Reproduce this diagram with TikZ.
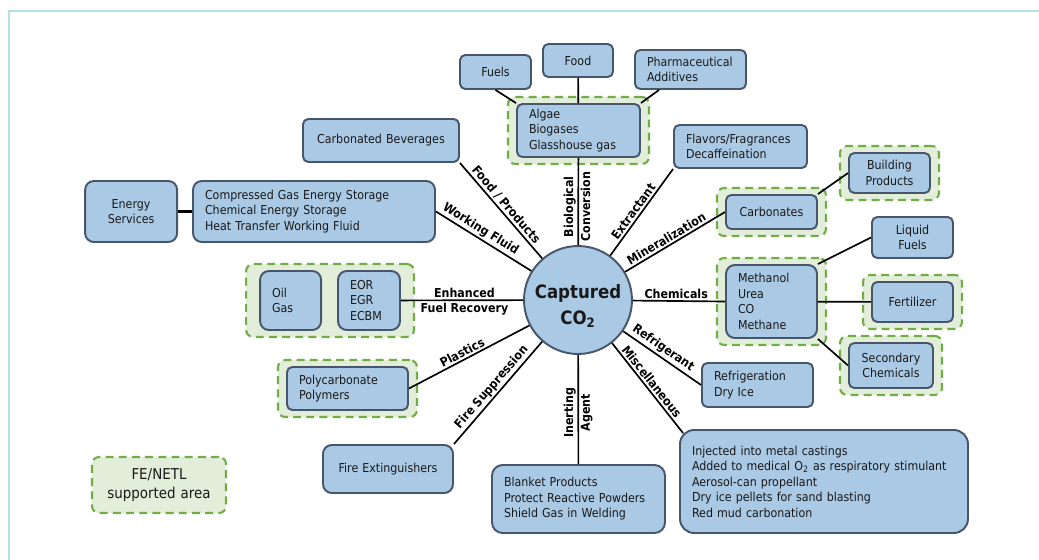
\documentclass[tikz,border=0pt]{standalone}
\usepackage{fontspec}
\setmainfont{DejaVu Sans}[FakeStretch=0.9]
\usepackage{xcolor}
\usepackage{tikz}
\usetikzlibrary{
  positioning,
  fit,
  backgrounds
}
\pgfdeclarelayer{background}
\pgfsetlayers{background,main}
\definecolor{boxblue}{RGB}{170, 201, 228}
\definecolor{edgeslate}{RGB}{72, 86, 108}
\definecolor{suppgreen}{RGB}{112, 173, 71}
\definecolor{suppfill}{RGB}{226, 238, 218}
\definecolor{framecyan}{RGB}{178, 224, 230}
\definecolor{inktext}{RGB}{25, 25, 25}
\newcommand{\bxfont}{\fontsize{7}{8.8}\selectfont}
\newcommand{\hubfont}{\fontsize{10.5}{14.5}\selectfont\bfseries}
\newcommand{\lblfont}{\fontsize{7}{8.4}\selectfont\bfseries}
\newcommand{\keyfont}{\fontsize{8.5}{10.4}\selectfont}
\tikzset{
  ubox/.style = {
    rectangle, rounded corners=3pt,
    draw=edgeslate, line width=1.1pt,
    fill=boxblue, text width=#1, align=left,
    inner xsep=0.24cm, inner ysep=2pt,
    font=\bxfont, text=inktext
  },
  ubox/.default = 2cm,
  hub/.style = {
    circle, draw=edgeslate, line width=1.1pt,
    fill=boxblue, minimum size=2.16cm, inner sep=0pt,
    align=center, font=\hubfont, text=inktext
  },
  supp/.style = {
    draw=suppgreen, fill=suppfill, line width=1.2pt,
    dash pattern=on 4.5pt off 3pt, rounded corners=4pt,
    inner xsep=0.16cm, inner ysep=0.12cm
  },
  conn/.style = {draw=black, line width=0.95pt},
  lbl/.style  = {font=\lblfont, inner sep=1pt},
}

\begin{document}
\begin{tikzpicture}[x=0.02cm, y=-0.02cm]

  \useasboundingbox (0,0) rectangle (1039,559);
  \draw[framecyan, line width=1.5pt] (9,11) rectangle (1070,590);

  %% ── Hub ────────────────────────────────────────────────────────────────
  \node[hub] (co2) at (578,300)
    {\raisebox{-0.13cm}[\height][\depth]{%
       \begin{tabular}{@{}c@{}}Captured\\CO\textsubscript{2}\end{tabular}}};

  %% ── Top: biological branch ─────────────────────────────────────────────
  \node[ubox=1.98cm, minimum height=1.06cm] (algae) at (578.5,130.5)
    {Algae\\Biogases\\Glasshouse gas};
  \node[ubox=0.92cm, align=center, minimum height=0.66cm] (food)
    at (578,60.5) {Food};
  \node[ubox=0.94cm, align=center, minimum height=0.68cm] (fuels)
    at (495.5,72) {Fuels};
  \node[ubox=1.74cm, minimum height=0.78cm] (pharma) at (690.5,69.5)
    {Pharmaceutical\\Additives};

  %% ── Left side ─────────────────────────────────────────────────────────
  \node[ubox=2.64cm, align=center, minimum height=0.86cm] (bev)
    at (381,140.5) {Carbonated Beverages};
  \node[ubox=4.36cm, minimum height=1.22cm, rounded corners=5pt] (stor)
    at (314,211.5)
    {Compressed Gas Energy Storage\\Chemical Energy Storage\\
     Heat Transfer Working Fluid};
  \node[ubox=1.36cm, align=center, minimum height=1.22cm,
        rounded corners=5pt, left=0.28cm of stor] (enserv)
    {Energy\\Services};
  \node[ubox=0.76cm, minimum height=1.18cm, rounded corners=5pt] (eor)
    at (369,300.5) {EOR\\EGR\\ECBM};
  \node[ubox=0.74cm, minimum height=1.18cm, rounded corners=5pt,
        left=0.3cm of eor] (oilgas) {Oil\\Gas};
  \node[ubox=1.94cm, minimum height=0.86cm] (poly) at (347.5,388.5)
    {Polycarbonate\\Polymers};
  \node[ubox=2.12cm, align=center, minimum height=0.96cm,
        rounded corners=5pt] (fireext) at (388,469) {Fire Extinguishers};

  %% ── Bottom ────────────────────────────────────────────────────────────
  \node[ubox=2.98cm, minimum height=1.36cm, rounded corners=6pt] (blanket)
    at (578.5,499)
    {Blanket Products\\Protect Reactive Powders\\Shield Gas in Welding};
  \node[ubox=5.28cm, minimum height=2.06cm, rounded corners=8pt] (misc)
    at (824,481.5)
    {Injected into metal castings\\
     Added to medical O\textsubscript{2} as respiratory stimulant\\
     Aerosol-can propellant\\Dry ice pellets for sand blasting\\
     Red mud carbonation};
  \coordinate (miscend) at ([shift={(4,4)}]misc.north west);

  %% ── Right side ────────────────────────────────────────────────────────
  \node[ubox=2.18cm, minimum height=0.86cm] (flavors) at (740.5,146.5)
    {Flavors/Fragrances\\Decaffeination};
  \node[ubox=1.34cm, align=center, minimum height=0.68cm] (carbonates)
    at (771.5,212) {Carbonates};
  \node[ubox=1.14cm, align=center, minimum height=0.8cm] (building)
    at (889.5,173) {Building\\Products};
  \node[ubox=1.34cm, minimum height=1.46cm, rounded corners=5pt] (methanol)
    at (771.5,301.5) {Methanol\\Urea\\CO\\Methane};
  \node[ubox=1.14cm, align=center, minimum height=0.82cm] (liqfuel)
    at (912.5,237.5) {Liquid\\Fuels};
  \node[ubox=1.14cm, align=center, minimum height=0.8cm] (fert)
    at (912.5,302) {Fertilizer};
  \node[ubox=1.2cm, align=center, minimum height=0.9cm] (secchem)
    at (891,365.5) {Secondary\\Chemicals};
  \node[ubox=1.74cm, minimum height=0.88cm] (refrig) at (757.5,385)
    {Refrigeration\\Dry Ice};

  %% ── Legend ────────────────────────────────────────────────────────────
  \node[supp, text width=2.2cm, align=center, minimum height=1.12cm,
        inner xsep=0.24cm, font=\keyfont, text=inktext] (legend)
    at (159,485) {FE/NETL\\supported area};

  %% ── Supported areas ───────────────────────────────────────────────────
  \begin{pgfonlayer}{background}
    \node[supp, fit=(algae)] {};
    \node[supp, fit=(oilgas)(eor), inner xsep=0.26cm] {};
    \node[supp, fit=(poly)] {};
    \node[supp, fit=(carbonates)] {};
    \node[supp, fit=(building)] {};
    \node[supp, fit=(methanol)] {};
    \node[supp, fit=(fert)] {};
    \node[supp, fit=(secchem)] {};
  \end{pgfonlayer}

  %% ── Connectors ────────────────────────────────────────────────────────
  \draw[conn] (fuels.south) -- (algae.north west);
  \draw[conn] (food) -- (algae);
  \draw[conn] (pharma.213) -- (algae.north east);
  \draw[conn, line width=1.9pt] (enserv) -- (stor);
  \draw[conn] (carbonates.north east) -- (building.west);
  \draw[conn] (methanol.north east) -- (liqfuel.west);
  \draw[conn] (methanol) -- (fert);
  \draw[conn] (methanol.south east) -- (secchem.west);

  % spokes from the hub
  \draw[conn] (co2) --
    node[lbl, rotate=90, anchor=south, pos=0.44] {Biological}
    node[lbl, rotate=90, anchor=north, pos=0.44] {Conversion} (algae);
  \draw[conn] (bev.south east) --
    node[lbl, sloped, above, pos=0.49] {Food / Products} (co2);
  \draw[conn] (stor.east) --
    node[lbl, sloped, above, pos=0.42] {Working Fluid} (co2);
  \draw[conn] (eor) --
    node[lbl, above, pos=0.52] {Enhanced}
    node[lbl, below, pos=0.52] {Fuel Recovery} (co2);
  \draw[conn] (poly.east) --
    node[lbl, sloped, above, pos=0.47] {Plastics} (co2);
  \draw[conn] (fireext.north east) --
    node[lbl, sloped, above, pos=0.5] {Fire Suppression} (co2);
  \draw[conn] (blanket) --
    node[lbl, rotate=90, anchor=south, pos=0.47] {Inerting}
    node[lbl, rotate=90, anchor=north, pos=0.47] {Agent} (co2);
  \draw[conn] (co2) --
    node[lbl, sloped, above, pos=0.48] {Miscellaneous} (miscend);
  \draw[conn] (co2) --
    node[lbl, sloped, above, pos=0.45] {Refrigerant} (refrig.west);
  \draw[conn] (co2) --
    node[lbl, above, pos=0.47] {Chemicals} (methanol.west);
  \draw[conn] (co2) --
    node[lbl, sloped, above, pos=0.45] {Mineralization} (carbonates.west);
  \draw[conn] (co2) --
    node[lbl, sloped, above, pos=0.46] {Extractant} (flavors.south west);

\end{tikzpicture}
\end{document}
